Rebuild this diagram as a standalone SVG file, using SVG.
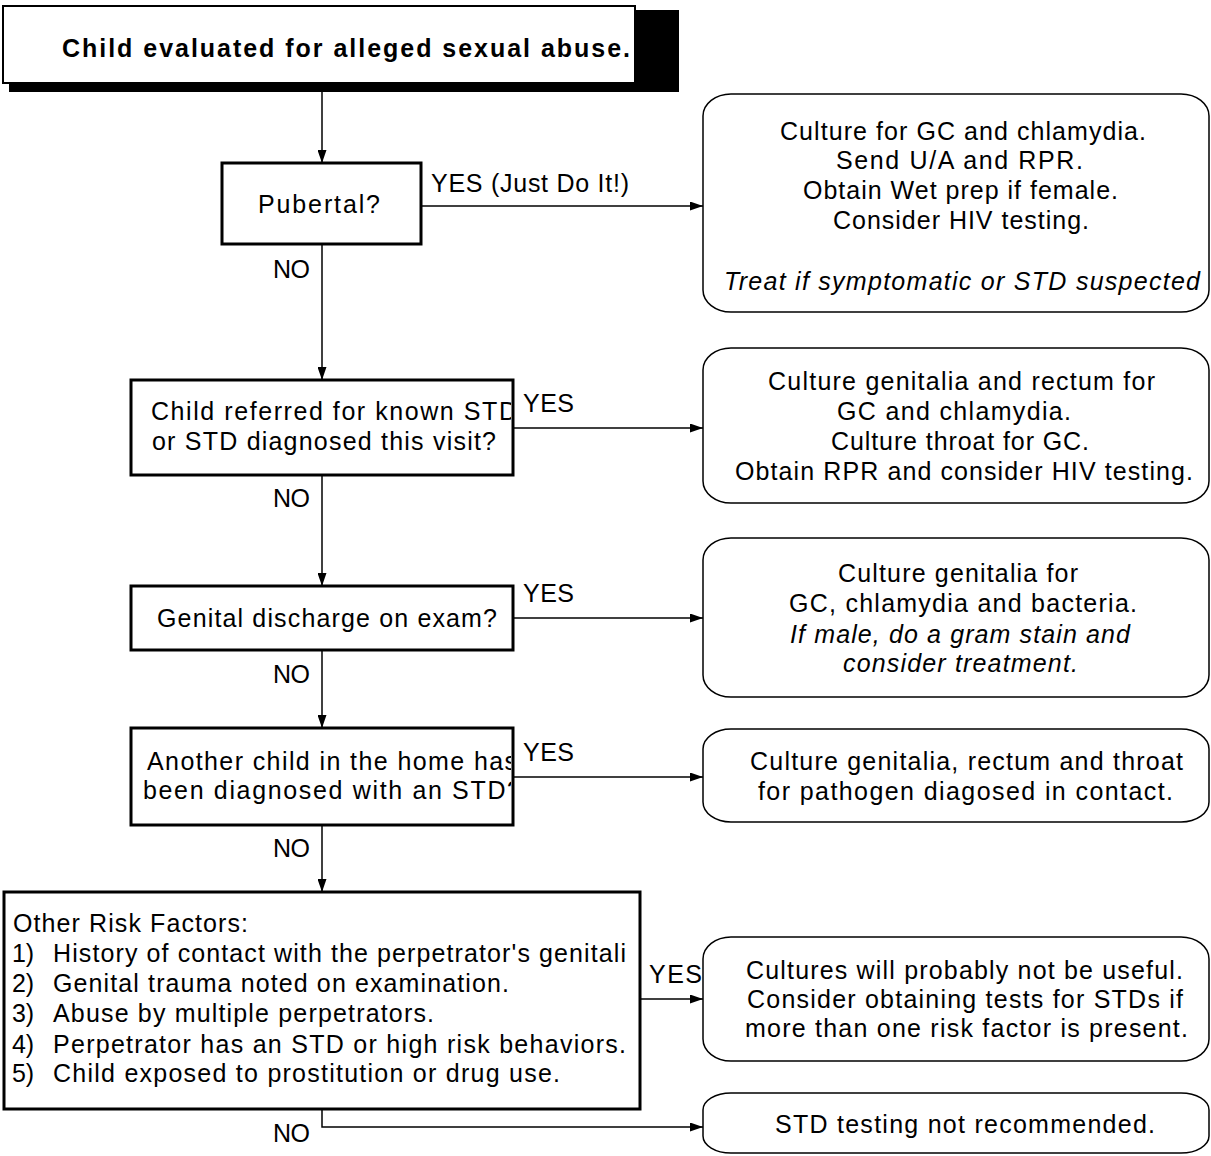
<svg xmlns="http://www.w3.org/2000/svg" width="1211" height="1156" viewBox="0 0 1211 1156">
<style>
text{font-family:"Liberation Sans",Arial,sans-serif;font-size:25px;fill:#000}
.b{font-weight:bold}
.i{font-style:italic}
.dec{fill:#fff;stroke:#000;stroke-width:3}
.act{fill:#fff;stroke:#000;stroke-width:1.5}
.con{fill:none;stroke:#000;stroke-width:1.5}
</style>
<defs>
<marker id="ah" markerUnits="userSpaceOnUse" markerWidth="13" markerHeight="9" refX="13" refY="4.5" orient="auto">
<path d="M0,0 L13,4.5 L0,9 z" fill="#000"/>
</marker>
<clipPath id="c2"><rect x="131" y="380" width="380" height="95"/></clipPath>
<clipPath id="c4"><rect x="131" y="728" width="380" height="97"/></clipPath>
</defs>
<rect width="1211" height="1156" fill="#fff"/>

<g id="connectors">
<path class="con" d="M322,92 V163" marker-end="url(#ah)"/>
<path class="con" d="M421,206 H703" marker-end="url(#ah)"/>
<path class="con" d="M322,244 V380" marker-end="url(#ah)"/>
<path class="con" d="M513,428 H703" marker-end="url(#ah)"/>
<path class="con" d="M322,475 V586" marker-end="url(#ah)"/>
<path class="con" d="M513,618 H703" marker-end="url(#ah)"/>
<path class="con" d="M322,650 V728" marker-end="url(#ah)"/>
<path class="con" d="M513,777 H703" marker-end="url(#ah)"/>
<path class="con" d="M322,825 V892" marker-end="url(#ah)"/>
<path class="con" d="M640,999 H703" marker-end="url(#ah)"/>
<path class="con" d="M322,1109 V1127 H703" marker-end="url(#ah)"/>
<text x="431" y="192" textLength="198" lengthAdjust="spacing">YES (Just Do It!)</text>
<text x="273" y="278" textLength="37" lengthAdjust="spacing">NO</text>
<text x="523" y="412" textLength="51" lengthAdjust="spacing">YES</text>
<text x="273" y="507" textLength="37" lengthAdjust="spacing">NO</text>
<text x="523" y="602" textLength="51" lengthAdjust="spacing">YES</text>
<text x="273" y="683" textLength="37" lengthAdjust="spacing">NO</text>
<text x="523" y="761" textLength="51" lengthAdjust="spacing">YES</text>
<text x="273" y="857" textLength="37" lengthAdjust="spacing">NO</text>
<text x="649" y="983" textLength="53" lengthAdjust="spacing">YES</text>
<text x="273" y="1142" textLength="37" lengthAdjust="spacing">NO</text>
</g>

<g id="start">
<rect x="9" y="10" width="670" height="82" fill="#000"/>
<rect x="3" y="6" width="632" height="77" fill="#fff" stroke="#000" stroke-width="2"/>
<text class="b" x="62" y="57" textLength="568" lengthAdjust="spacing">Child evaluated for alleged sexual abuse.</text>
</g>

<g id="q-pubertal">
<rect class="dec" x="222" y="163" width="199" height="81"/>
<text x="258" y="213" textLength="122" lengthAdjust="spacing">Pubertal?</text>
</g>

<g id="a-pubertal">
<rect class="act" x="703" y="94" width="506" height="218" rx="28" ry="22"/>
<text x="780" y="140" textLength="366" lengthAdjust="spacing">Culture for GC and chlamydia.</text>
<text x="836" y="169" textLength="247" lengthAdjust="spacing">Send U/A and RPR.</text>
<text x="803" y="199" textLength="315" lengthAdjust="spacing">Obtain Wet prep if female.</text>
<text x="833" y="229" textLength="256" lengthAdjust="spacing">Consider HIV testing.</text>
<text class="i" x="724" y="290" textLength="476" lengthAdjust="spacing">Treat if symptomatic or STD suspected</text>
</g>

<g id="q-known-std">
<rect class="dec" x="131" y="380" width="382" height="95"/>
<g clip-path="url(#c2)">
<text x="151" y="420" textLength="366" lengthAdjust="spacing">Child referred for known STD</text>
<text x="152" y="450" textLength="344" lengthAdjust="spacing">or STD diagnosed this visit?</text>
</g>
</g>

<g id="a-known-std">
<rect class="act" x="703" y="348" width="506" height="155" rx="28" ry="22"/>
<text x="768" y="390" textLength="387" lengthAdjust="spacing">Culture genitalia and rectum for</text>
<text x="837" y="420" textLength="234" lengthAdjust="spacing">GC and chlamydia.</text>
<text x="831" y="450" textLength="258" lengthAdjust="spacing">Culture throat for GC.</text>
<text x="735" y="480" textLength="458" lengthAdjust="spacing">Obtain RPR and consider HIV testing.</text>
</g>

<g id="q-discharge">
<rect class="dec" x="131" y="586" width="382" height="64"/>
<text x="157" y="627" textLength="340" lengthAdjust="spacing">Genital discharge on exam?</text>
</g>

<g id="a-discharge">
<rect class="act" x="703" y="538" width="506" height="159" rx="28" ry="22"/>
<text x="838" y="582" textLength="240" lengthAdjust="spacing">Culture genitalia for</text>
<text x="789" y="612" textLength="348" lengthAdjust="spacing">GC, chlamydia and bacteria.</text>
<text class="i" x="790" y="643" textLength="340" lengthAdjust="spacing">If male, do a gram stain and</text>
<text class="i" x="843" y="672" textLength="235" lengthAdjust="spacing">consider treatment.</text>
</g>

<g id="q-contact">
<rect class="dec" x="131" y="728" width="382" height="97"/>
<g clip-path="url(#c4)">
<text x="147" y="770" textLength="370" lengthAdjust="spacing">Another child in the home has</text>
<text x="143" y="799" textLength="378" lengthAdjust="spacing">been diagnosed with an STD?</text>
</g>
</g>

<g id="a-contact">
<rect class="act" x="703" y="729" width="506" height="93" rx="28" ry="20"/>
<text x="750" y="770" textLength="433" lengthAdjust="spacing">Culture genitalia, rectum and throat</text>
<text x="758" y="800" textLength="415" lengthAdjust="spacing">for pathogen diagosed in contact.</text>
</g>

<g id="q-risk">
<rect class="dec" x="4" y="892" width="636" height="217"/>
<text x="13" y="932" textLength="235" lengthAdjust="spacing">Other Risk Factors:</text>
<text x="12" y="962" textLength="22" lengthAdjust="spacing">1)</text>
<text x="53" y="962" textLength="573" lengthAdjust="spacing">History of contact with the perpetrator's genitali</text>
<text x="12" y="992" textLength="22" lengthAdjust="spacing">2)</text>
<text x="53" y="992" textLength="456" lengthAdjust="spacing">Genital trauma noted on examination.</text>
<text x="12" y="1022" textLength="22" lengthAdjust="spacing">3)</text>
<text x="53" y="1022" textLength="381" lengthAdjust="spacing">Abuse by multiple perpetrators.</text>
<text x="12" y="1053" textLength="22" lengthAdjust="spacing">4)</text>
<text x="53" y="1053" textLength="573" lengthAdjust="spacing">Perpetrator has an STD or high risk behaviors.</text>
<text x="12" y="1082" textLength="22" lengthAdjust="spacing">5)</text>
<text x="53" y="1082" textLength="507" lengthAdjust="spacing">Child exposed to prostitution or drug use.</text>
</g>

<g id="a-risk">
<rect class="act" x="703" y="937" width="506" height="124" rx="28" ry="22"/>
<text x="746" y="979" textLength="437" lengthAdjust="spacing">Cultures will probably not be useful.</text>
<text x="747" y="1008" textLength="436" lengthAdjust="spacing">Consider obtaining tests for STDs if</text>
<text x="745" y="1037" textLength="443" lengthAdjust="spacing">more than one risk factor is present.</text>
</g>

<g id="a-none">
<rect class="act" x="703" y="1093" width="506" height="60" rx="28" ry="17"/>
<text x="775" y="1133" textLength="380" lengthAdjust="spacing">STD testing not recommended.</text>
</g>
</svg>
